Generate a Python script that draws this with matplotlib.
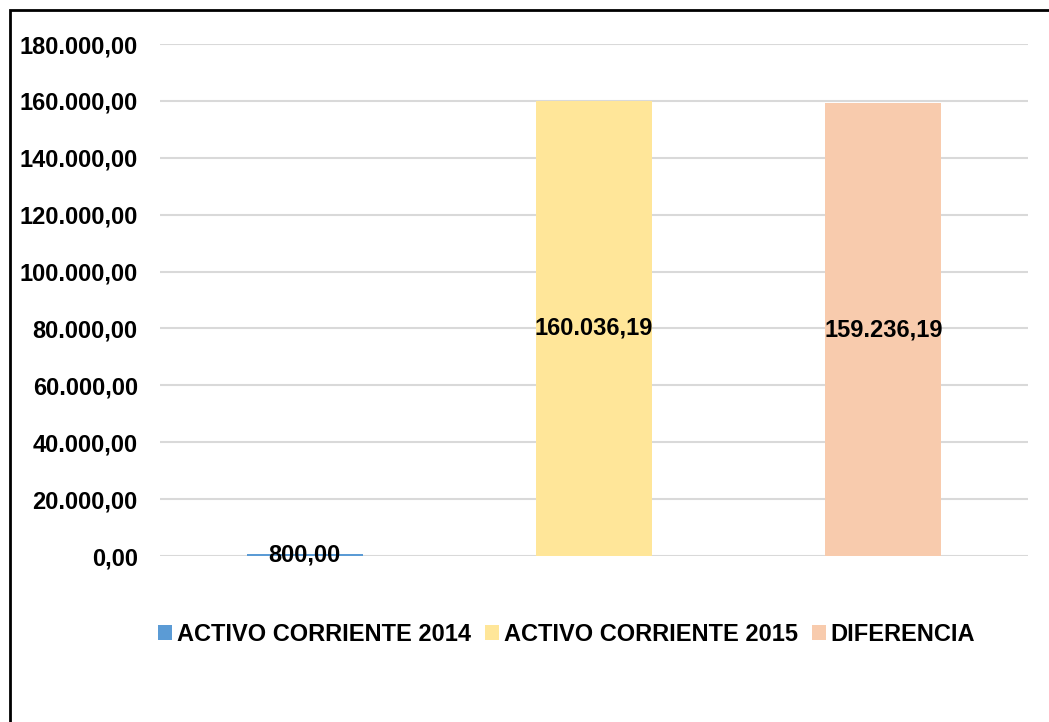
import matplotlib.pyplot as plt
from matplotlib.patches import Rectangle
from matplotlib.ticker import FuncFormatter

plt.rcParams['font.family'] = ['Liberation Sans', 'DejaVu Sans']
plt.rcParams['font.weight'] = 'bold'

series = ['ACTIVO CORRIENTE 2014', 'ACTIVO CORRIENTE 2015', 'DIFERENCIA']
values = [800.00, 160036.19, 159236.19]
colors = ['#5B9BD5', '#FFE699', '#F8CBAD']
yticks = [0, 20000, 40000, 60000, 80000, 100000, 120000, 140000, 160000, 180000]


def es_format(v, pos=None):
    s = f'{v:,.2f}'
    return s.replace(',', 'X').replace('.', ',').replace('X', '.')


fig = plt.figure(figsize=(10.49, 7.22), dpi=100)
ax = fig.add_axes([0.1525, 0.2299, 0.8275, 0.7091])

for i, (name, v, c) in enumerate(zip(series, values, colors)):
    ax.bar(i, v, width=0.4, color=c, label=name, zorder=2)
    ax.text(i, v / 2, es_format(v), ha='center', va='center',
            fontsize=17, fontweight='bold', zorder=3)

ax.set_xlim(-0.5, 2.5)
ax.set_ylim(0, 180000)
ax.set_yticks(yticks)
ax.yaxis.set_major_formatter(FuncFormatter(es_format))
ax.set_xticks([])
ax.grid(axis='y', color='#D9D9D9', linewidth=1.5, zorder=0)
for s in ax.spines.values():
    s.set_visible(False)
ax.tick_params(axis='y', length=0, pad=16, labelsize=17)
for t in ax.get_yticklabels():
    t.set_fontweight('bold')

leg = fig.legend(loc='center', bbox_to_anchor=(0.54, 0.121), ncol=3, frameon=False,
                 handlelength=0.6, handleheight=0.6, handletextpad=0.2,
                 columnspacing=0.6, prop={'weight': 'bold', 'size': 17})

# outer border (right and bottom edges fall outside the image)
fig.patches.append(Rectangle((10 / 1049, -0.1), 1.2, 1 - 10 / 722 + 0.1,
                             transform=fig.transFigure, fill=False,
                             edgecolor='black', linewidth=2))

fig.savefig('out.png', dpi=100)
